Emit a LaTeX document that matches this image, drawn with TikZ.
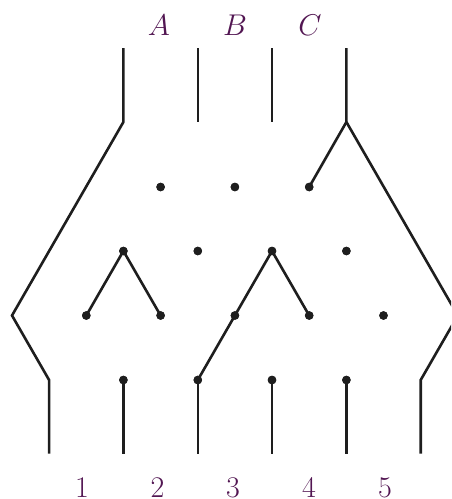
\RequirePackage{fix-cm}
\documentclass[tikz,border=0pt]{standalone}
\usepackage{xcolor}
\definecolor{labelc}{RGB}{82,22,82}
\definecolor{linec}{RGB}{30,30,30}
\begin{document}
\begin{tikzpicture}[x=1pt,y=-1pt,
  strand/.style={draw=linec,line width=2.6pt,line join=miter},
  dot/.style={circle,fill=linec,inner sep=0pt,minimum size=8.5pt},
  lab/.style={text=labelc,font=\fontsize{30}{30}\selectfont,inner sep=0pt}]
\useasboundingbox (0,0) rectangle (451,499);
% top labels
\node[lab] (lA) at (159,25) {$A$};
\node[lab] (lB) at (235,25) {$B$};
\node[lab] (lC) at (310,25) {$C$};
% bottom labels
\node[lab] (l1) at (82,487.5) {1};
\node[lab] (l2) at (157.5,487.5) {2};
\node[lab] (l3) at (233,487.5) {3};
\node[lab] (l4) at (309,487.5) {4};
\node[lab] (l5) at (385,487.5) {5};
\begin{scope}
\clip (0,0) rectangle (451,499);
% top strand ends
\coordinate (ta) at (123.4,48);
\coordinate (tb) at (197.8,48);
\coordinate (tc) at (272,48);
\coordinate (td) at (346.4,48);
\coordinate (cl) at (123.4,122);
\coordinate (eb) at (197.8,122);
\coordinate (ec) at (272,122);
\coordinate (cr) at (346.4,122);
% side corners
\coordinate (al) at (12,315.5);
\coordinate (ar) at (457.8,315.5);
\coordinate (bl) at (49.1,380);
\coordinate (br) at (420.7,380);
\coordinate (bl2) at (49.1,453.5);
\coordinate (br2) at (420.7,453.5);
% row 1 dots
\node[dot] (r1a) at (160.6,187) {};
\node[dot] (r1b) at (234.9,187) {};
\node[dot] (r1c) at (309.2,187) {};
% row 2 dots
\node[dot] (r2a) at (123.4,251) {};
\node[dot] (r2b) at (197.8,251) {};
\node[dot] (r2c) at (272,251) {};
\node[dot] (r2d) at (346.4,251) {};
% row 3 dots
\node[dot] (r3a) at (86.3,315.5) {};
\node[dot] (r3b) at (160.6,315.5) {};
\node[dot] (r3c) at (234.9,315.5) {};
\node[dot] (r3d) at (309.2,315.5) {};
\node[dot] (r3e) at (383.5,315.5) {};
% row 4 dots
\node[dot] (r4a) at (123.4,380) {};
\node[dot] (r4b) at (197.8,380) {};
\node[dot] (r4c) at (272,380) {};
\node[dot] (r4d) at (346.4,380) {};
% bottom ends
\coordinate (ba) at (123.4,453.5);
\coordinate (bb) at (197.8,453.5);
\coordinate (bc) at (272,453.5);
\coordinate (bd) at (346.4,453.5);
% strands
\draw[strand] (ta) -- (cl) -- (al) -- (bl) -- (bl2);
\draw[strand] (tb) -- (eb);
\draw[strand] (tc) -- (ec);
\draw[strand] (td) -- (cr) -- (ar) -- (br) -- (br2);
\draw[strand] (cr) -- (r1c.center);
\draw[strand] (r3a.center) -- (r2a.center) -- (r3b.center);
\draw[strand] (r4b.center) -- (r3c.center) -- (r2c.center) -- (r3d.center);
\draw[strand] (r4a.center) -- (ba);
\draw[strand] (r4b.center) -- (bb);
\draw[strand] (r4c.center) -- (bc);
\draw[strand] (r4d.center) -- (bd);
% redraw dots on top
\foreach \n in {r1a,r1b,r1c,r2a,r2b,r2c,r2d,r3a,r3b,r3c,r3d,r3e,r4a,r4b,r4c,r4d}
  \fill[linec] (\n.center) circle (4.3pt);
\end{scope}
\end{tikzpicture}
\end{document}
